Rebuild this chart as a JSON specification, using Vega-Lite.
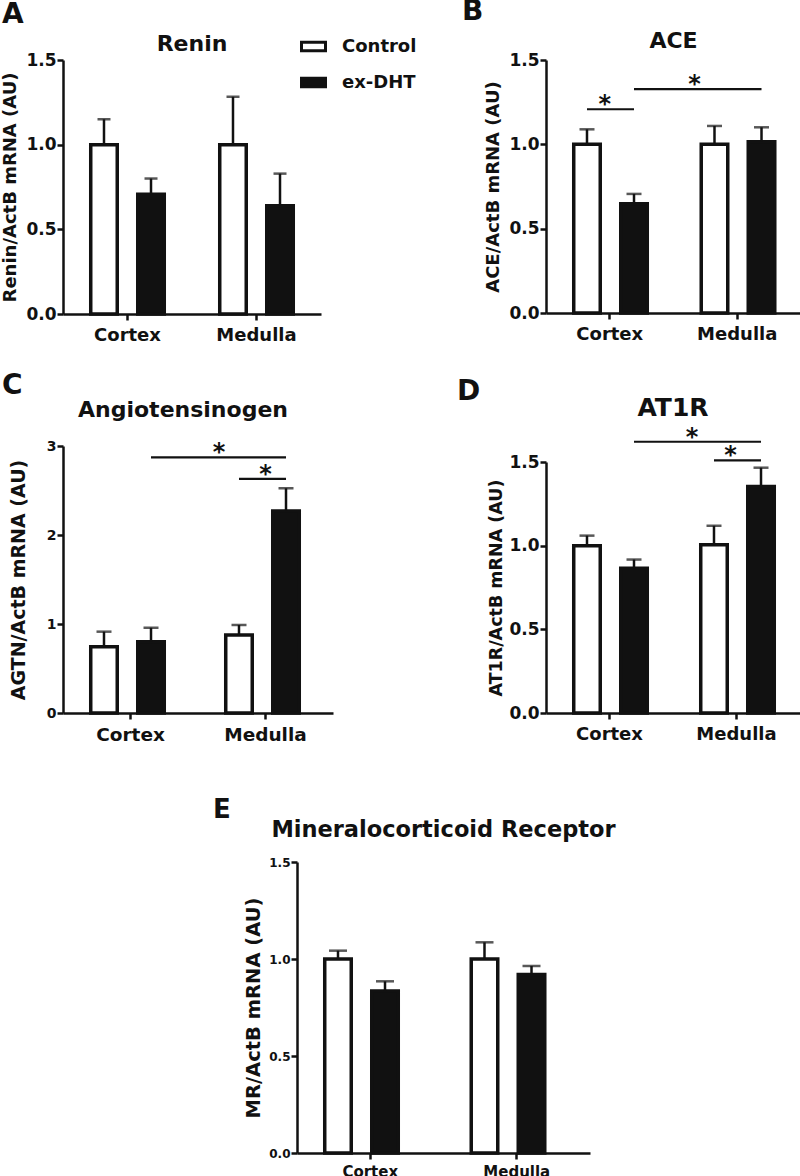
{
"$schema": "https://vega.github.io/schema/vega-lite/v6.json",
"padding": {"left": 1, "top": -2, "right": 0, "bottom": 0},
"autosize": {"type": "pad"},
"datasets": {
 "bars": [
  {"panel":"A","region":"Cortex","group":"Control","mean":1.0,"upper":1.15},
  {"panel":"A","region":"Cortex","group":"ex-DHT","mean":0.707,"upper":0.80},
  {"panel":"A","region":"Medulla","group":"Control","mean":1.0,"upper":1.283},
  {"panel":"A","region":"Medulla","group":"ex-DHT","mean":0.64,"upper":0.829},
  {"panel":"B","region":"Cortex","group":"Control","mean":1.0,"upper":1.089},
  {"panel":"B","region":"Cortex","group":"ex-DHT","mean":0.647,"upper":0.706},
  {"panel":"B","region":"Medulla","group":"Control","mean":1.0,"upper":1.109},
  {"panel":"B","region":"Medulla","group":"ex-DHT","mean":1.015,"upper":1.101},
  {"panel":"C","region":"Cortex","group":"Control","mean":0.745,"upper":0.914},
  {"panel":"C","region":"Cortex","group":"ex-DHT","mean":0.80,"upper":0.958},
  {"panel":"C","region":"Medulla","group":"Control","mean":0.876,"upper":0.989},
  {"panel":"C","region":"Medulla","group":"ex-DHT","mean":2.27,"upper":2.525},
  {"panel":"D","region":"Cortex","group":"Control","mean":1.0,"upper":1.06},
  {"panel":"D","region":"Cortex","group":"ex-DHT","mean":0.865,"upper":0.917},
  {"panel":"D","region":"Medulla","group":"Control","mean":1.006,"upper":1.119},
  {"panel":"D","region":"Medulla","group":"ex-DHT","mean":1.353,"upper":1.466},
  {"panel":"E","region":"Cortex","group":"Control","mean":1.0,"upper":1.043},
  {"panel":"E","region":"Cortex","group":"ex-DHT","mean":0.835,"upper":0.885},
  {"panel":"E","region":"Medulla","group":"Control","mean":1.0,"upper":1.086},
  {"panel":"E","region":"Medulla","group":"ex-DHT","mean":0.92,"upper":0.964}
 ],
 "sig": [
  {"panel":"B","id":"B1","region":"Cortex","group":"Control","y":1.208},
  {"panel":"B","id":"B1","region":"Cortex","group":"ex-DHT","y":1.208},
  {"panel":"B","id":"B2","region":"Cortex","group":"ex-DHT","y":1.327},
  {"panel":"B","id":"B2","region":"Medulla","group":"ex-DHT","y":1.327},
  {"panel":"C","id":"C1","region":"Cortex","group":"ex-DHT","y":2.873},
  {"panel":"C","id":"C1","region":"Medulla","group":"ex-DHT","y":2.873},
  {"panel":"C","id":"C2","region":"Medulla","group":"Control","y":2.63},
  {"panel":"C","id":"C2","region":"Medulla","group":"ex-DHT","y":2.63},
  {"panel":"D","id":"D1","region":"Cortex","group":"ex-DHT","y":1.621},
  {"panel":"D","id":"D1","region":"Medulla","group":"ex-DHT","y":1.621},
  {"panel":"D","id":"D2","region":"Medulla","group":"Control","y":1.51},
  {"panel":"D","id":"D2","region":"Medulla","group":"ex-DHT","y":1.51}
 ],
 "stars": [
  {"panel":"B","id":"B1","kind":"within","region":"Cortex","y":1.208,"label":"*"},
  {"panel":"B","id":"B2","kind":"between","region":"Medulla","y":1.327,"label":"*"},
  {"panel":"C","id":"C1","kind":"between","region":"Medulla","y":2.873,"label":"*"},
  {"panel":"C","id":"C2","kind":"within","region":"Medulla","y":2.63,"label":"*"},
  {"panel":"D","id":"D1","kind":"between","region":"Medulla","y":1.621,"label":"*"},
  {"panel":"D","id":"D2","kind":"within","region":"Medulla","y":1.51,"label":"*"}
 ]
},
"spacing": 52,
"resolve": {"scale": {"fill": "independent"}, "legend": {"fill": "independent"}},
"vconcat": [
 {
  "spacing": 40,
  "resolve": {"scale": {"fill": "independent"}, "legend": {"fill": "independent"}},
  "hconcat": [
   {
    "spacing": 28,
    "resolve": {"scale": {"fill": "independent"}, "legend": {"fill": "independent"}},
    "vconcat": [
     {
      "title": {"text": "A", "anchor": "start", "frame": "group", "fontSize": 28, "dx": -61, "offset": 4},
      "resolve": {"scale": {"fill": "independent"}, "legend": {"fill": "independent"}},
      "vconcat": [
       {
        "width": 258, "height": 254,
        "title": {"text": "Renin", "fontSize": 22, "offset": -23},
        "layer": [
         {"data": {"name": "bars"}, "transform": [{"filter": "datum.panel === 'A'"}],
          "mark": {"type": "bar", "stroke": "#111111", "strokeWidth": 3.5},
          "encoding": {
           "x": {"field": "region", "type": "nominal", "scale": {"paddingInner": 0, "paddingOuter": 0}, "axis": {"title": null, "labelFontSize": 18}},
           "xOffset": {"field": "group", "type": "nominal", "scale": {"paddingInner": 0.436, "paddingOuter": 0.59}},
           "y": {"field": "mean", "type": "quantitative", "title": "Renin/ActB mRNA (AU)", "scale": {"domain": [0, 1.5], "nice": false}, "axis": {"values": [0, 0.5, 1, 1.5], "format": ".1f", "labelFontSize": 17, "titleFontSize": 18, "titlePadding": 6}},
           "fill": {"field": "group", "type": "nominal", "scale": {"domain": ["Control", "ex-DHT"], "range": ["#ffffff", "#111111"]},
            "legend": {"orient": "none", "legendX": 237, "legendY": -27, "title": null, "symbolType": "M-1,-0.35H1V0.35H-1Z", "symbolSize": 576, "symbolStrokeWidth": 3, "symbolStrokeColor": "#111111", "labelFontSize": 18, "labelFontWeight": "bold", "labelColor": "#111111", "labelFont": "DejaVu Sans", "labelOffset": 15, "rowPadding": 12}}
          }},
         {"data": {"name": "bars"}, "transform": [{"filter": "datum.panel === 'A'"}],
          "mark": {"type": "rule", "color": "#111111", "strokeWidth": 2.5},
          "encoding": {
           "x": {"field": "region", "type": "nominal"},
           "xOffset": {"field": "group", "type": "nominal"},
           "y": {"field": "mean", "type": "quantitative", "title": "Renin/ActB mRNA (AU)"},
           "y2": {"field": "upper"}
          }},
         {"data": {"name": "bars"}, "transform": [{"filter": "datum.panel === 'A'"}],
          "mark": {"type": "tick", "color": "#111111", "thickness": 2.5, "size": 13},
          "encoding": {
           "x": {"field": "region", "type": "nominal"},
           "xOffset": {"field": "group", "type": "nominal"},
           "y": {"field": "upper", "type": "quantitative", "title": "Renin/ActB mRNA (AU)"}
          }}
        ]
       }
      ]
     },
     {
      "title": {"text": "C", "anchor": "start", "frame": "group", "fontSize": 28, "dx": -61, "offset": -1},
      "resolve": {"scale": {"fill": "independent"}, "legend": {"fill": "independent"}},
      "vconcat": [
       {
        "width": 270, "height": 267,
        "title": {"text": "Angiotensinogen", "fontSize": 22, "offset": 17, "dx": -15},
        "layer": [
         {"data": {"name": "bars"}, "transform": [{"filter": "datum.panel === 'C'"}],
          "mark": {"type": "bar", "stroke": "#111111", "strokeWidth": 3.5},
          "encoding": {
           "x": {"field": "region", "type": "nominal", "scale": {"paddingInner": 0, "paddingOuter": 0}, "axis": {"title": null, "labelFontSize": 18.5}},
           "xOffset": {"field": "group", "type": "nominal", "scale": {"paddingInner": 0.4, "paddingOuter": 0.56}},
           "y": {"field": "mean", "type": "quantitative", "title": "AGTN/ActB mRNA (AU)", "scale": {"domain": [0, 3], "nice": false}, "axis": {"values": [0, 1, 2, 3], "format": "d", "labelFontSize": 14, "titleFontSize": 19, "titlePadding": 18}},
           "fill": {"field": "group", "type": "nominal", "scale": {"domain": ["Control", "ex-DHT"], "range": ["#ffffff", "#111111"]}, "legend": null}
          }},
         {"data": {"name": "bars"}, "transform": [{"filter": "datum.panel === 'C'"}],
          "mark": {"type": "rule", "color": "#111111", "strokeWidth": 2.5},
          "encoding": {
           "x": {"field": "region", "type": "nominal"},
           "xOffset": {"field": "group", "type": "nominal"},
           "y": {"field": "mean", "type": "quantitative", "title": "AGTN/ActB mRNA (AU)"},
           "y2": {"field": "upper"}
          }},
         {"data": {"name": "bars"}, "transform": [{"filter": "datum.panel === 'C'"}],
          "mark": {"type": "tick", "color": "#111111", "thickness": 2.5, "size": 15},
          "encoding": {
           "x": {"field": "region", "type": "nominal"},
           "xOffset": {"field": "group", "type": "nominal"},
           "y": {"field": "upper", "type": "quantitative", "title": "AGTN/ActB mRNA (AU)"}
          }},
         {"data": {"name": "sig"}, "transform": [{"filter": "datum.panel === 'C'"}],
          "mark": {"type": "line", "color": "#111111", "strokeWidth": 2.2},
          "encoding": {
           "x": {"field": "region", "type": "nominal"},
           "xOffset": {"field": "group", "type": "nominal"},
           "y": {"field": "y", "type": "quantitative", "title": "AGTN/ActB mRNA (AU)"},
           "detail": {"field": "id"}
          }},
         {"data": {"name": "stars"}, "transform": [{"filter": "datum.panel === 'C' && datum.kind === 'within'"}],
          "mark": {"type": "text", "fontSize": 24, "fontWeight": "bold", "color": "#111111", "baseline": "alphabetic", "dy": 3},
          "encoding": {
           "x": {"field": "region", "type": "nominal"},
           "y": {"field": "y", "type": "quantitative", "title": "AGTN/ActB mRNA (AU)"},
           "text": {"field": "label"}
          }},
         {"data": {"name": "stars"}, "transform": [{"filter": "datum.panel === 'C' && datum.kind === 'between'"}],
          "mark": {"type": "text", "fontSize": 24, "fontWeight": "bold", "color": "#111111", "baseline": "alphabetic", "dy": 3, "dx": 21},
          "encoding": {
           "x": {"field": "region", "type": "nominal", "bandPosition": 0},
           "y": {"field": "y", "type": "quantitative", "title": "AGTN/ActB mRNA (AU)"},
           "text": {"field": "label"}
          }}
        ]
       }
      ]
     }
    ]
   },
   {
    "spacing": 34,
    "resolve": {"scale": {"fill": "independent"}, "legend": {"fill": "independent"}},
    "vconcat": [
     {
      "title": {"text": "B", "anchor": "start", "frame": "group", "fontSize": 28, "dx": -84, "offset": 4},
      "resolve": {"scale": {"fill": "independent"}, "legend": {"fill": "independent"}},
      "vconcat": [
       {
        "width": 255, "height": 253,
        "title": {"text": "ACE", "fontSize": 22, "offset": -2},
        "layer": [
         {"data": {"name": "bars"}, "transform": [{"filter": "datum.panel === 'B'"}],
          "mark": {"type": "bar", "stroke": "#111111", "strokeWidth": 3.5},
          "encoding": {
           "x": {"field": "region", "type": "nominal", "scale": {"paddingInner": 0, "paddingOuter": 0}, "axis": {"title": null, "labelFontSize": 18}},
           "xOffset": {"field": "group", "type": "nominal", "scale": {"paddingInner": 0.436, "paddingOuter": 0.574}},
           "y": {"field": "mean", "type": "quantitative", "title": "ACE/ActB mRNA (AU)", "scale": {"domain": [0, 1.5], "nice": false}, "axis": {"values": [0, 0.5, 1, 1.5], "format": ".1f", "labelFontSize": 17, "titleFontSize": 18, "titlePadding": 6}},
           "fill": {"field": "group", "type": "nominal", "scale": {"domain": ["Control", "ex-DHT"], "range": ["#ffffff", "#111111"]}, "legend": null}
          }},
         {"data": {"name": "bars"}, "transform": [{"filter": "datum.panel === 'B'"}],
          "mark": {"type": "rule", "color": "#111111", "strokeWidth": 2.5},
          "encoding": {
           "x": {"field": "region", "type": "nominal"},
           "xOffset": {"field": "group", "type": "nominal"},
           "y": {"field": "mean", "type": "quantitative", "title": "ACE/ActB mRNA (AU)"},
           "y2": {"field": "upper"}
          }},
         {"data": {"name": "bars"}, "transform": [{"filter": "datum.panel === 'B'"}],
          "mark": {"type": "tick", "color": "#111111", "thickness": 2.5, "size": 15},
          "encoding": {
           "x": {"field": "region", "type": "nominal"},
           "xOffset": {"field": "group", "type": "nominal"},
           "y": {"field": "upper", "type": "quantitative", "title": "ACE/ActB mRNA (AU)"}
          }},
         {"data": {"name": "sig"}, "transform": [{"filter": "datum.panel === 'B'"}],
          "mark": {"type": "line", "color": "#111111", "strokeWidth": 2.2},
          "encoding": {
           "x": {"field": "region", "type": "nominal"},
           "xOffset": {"field": "group", "type": "nominal"},
           "y": {"field": "y", "type": "quantitative", "title": "ACE/ActB mRNA (AU)"},
           "detail": {"field": "id"}
          }},
         {"data": {"name": "stars"}, "transform": [{"filter": "datum.panel === 'B' && datum.kind === 'within'"}],
          "mark": {"type": "text", "fontSize": 24, "fontWeight": "bold", "color": "#111111", "baseline": "alphabetic", "dy": 3, "dx": -5},
          "encoding": {
           "x": {"field": "region", "type": "nominal"},
           "y": {"field": "y", "type": "quantitative", "title": "ACE/ActB mRNA (AU)"},
           "text": {"field": "label"}
          }},
         {"data": {"name": "stars"}, "transform": [{"filter": "datum.panel === 'B' && datum.kind === 'between'"}],
          "mark": {"type": "text", "fontSize": 24, "fontWeight": "bold", "color": "#111111", "baseline": "alphabetic", "dy": 3, "dx": 21},
          "encoding": {
           "x": {"field": "region", "type": "nominal", "bandPosition": 0},
           "y": {"field": "y", "type": "quantitative", "title": "ACE/ActB mRNA (AU)"},
           "text": {"field": "label"}
          }}
        ]
       }
      ]
     },
     {
      "title": {"text": "D", "anchor": "start", "frame": "group", "fontSize": 28, "dx": -89, "offset": -10},
      "resolve": {"scale": {"fill": "independent"}, "legend": {"fill": "independent"}},
      "vconcat": [
       {
        "width": 254, "height": 251,
        "title": {"text": "AT1R", "fontSize": 25, "offset": 5},
        "layer": [
         {"data": {"name": "bars"}, "transform": [{"filter": "datum.panel === 'D'"}],
          "mark": {"type": "bar", "stroke": "#111111", "strokeWidth": 3.5},
          "encoding": {
           "x": {"field": "region", "type": "nominal", "scale": {"paddingInner": 0, "paddingOuter": 0}, "axis": {"title": null, "labelFontSize": 18}},
           "xOffset": {"field": "group", "type": "nominal", "scale": {"paddingInner": 0.436, "paddingOuter": 0.569}},
           "y": {"field": "mean", "type": "quantitative", "title": "AT1R/ActB mRNA (AU)", "scale": {"domain": [0, 1.5], "nice": false}, "axis": {"values": [0, 0.5, 1, 1.5], "format": ".1f", "labelFontSize": 17, "titleFontSize": 17.5, "titlePadding": 3}},
           "fill": {"field": "group", "type": "nominal", "scale": {"domain": ["Control", "ex-DHT"], "range": ["#ffffff", "#111111"]}, "legend": null}
          }},
         {"data": {"name": "bars"}, "transform": [{"filter": "datum.panel === 'D'"}],
          "mark": {"type": "rule", "color": "#111111", "strokeWidth": 2.5},
          "encoding": {
           "x": {"field": "region", "type": "nominal"},
           "xOffset": {"field": "group", "type": "nominal"},
           "y": {"field": "mean", "type": "quantitative", "title": "AT1R/ActB mRNA (AU)"},
           "y2": {"field": "upper"}
          }},
         {"data": {"name": "bars"}, "transform": [{"filter": "datum.panel === 'D'"}],
          "mark": {"type": "tick", "color": "#111111", "thickness": 2.5, "size": 15},
          "encoding": {
           "x": {"field": "region", "type": "nominal"},
           "xOffset": {"field": "group", "type": "nominal"},
           "y": {"field": "upper", "type": "quantitative", "title": "AT1R/ActB mRNA (AU)"}
          }},
         {"data": {"name": "sig"}, "transform": [{"filter": "datum.panel === 'D'"}],
          "mark": {"type": "line", "color": "#111111", "strokeWidth": 2.2},
          "encoding": {
           "x": {"field": "region", "type": "nominal"},
           "xOffset": {"field": "group", "type": "nominal"},
           "y": {"field": "y", "type": "quantitative", "title": "AT1R/ActB mRNA (AU)"},
           "detail": {"field": "id"}
          }},
         {"data": {"name": "stars"}, "transform": [{"filter": "datum.panel === 'D' && datum.kind === 'within'"}],
          "mark": {"type": "text", "fontSize": 24, "fontWeight": "bold", "color": "#111111", "baseline": "alphabetic", "dy": 3, "dx": -6},
          "encoding": {
           "x": {"field": "region", "type": "nominal"},
           "y": {"field": "y", "type": "quantitative", "title": "AT1R/ActB mRNA (AU)"},
           "text": {"field": "label"}
          }},
         {"data": {"name": "stars"}, "transform": [{"filter": "datum.panel === 'D' && datum.kind === 'between'"}],
          "mark": {"type": "text", "fontSize": 24, "fontWeight": "bold", "color": "#111111", "baseline": "alphabetic", "dy": 3, "dx": 19},
          "encoding": {
           "x": {"field": "region", "type": "nominal", "bandPosition": 0},
           "y": {"field": "y", "type": "quantitative", "title": "AT1R/ActB mRNA (AU)"},
           "text": {"field": "label"}
          }}
        ]
       }
      ]
     }
    ]
   }
  ]
 },
 {
  "spacing": 149,
  "resolve": {"scale": {"fill": "independent"}, "legend": {"fill": "independent"}},
  "hconcat": [
   {"width": 1, "height": 1, "data": {"values": []}, "mark": {"type": "point", "opacity": 0}, "encoding": {}},
   {
    "title": {"text": "E", "anchor": "start", "frame": "group", "fontSize": 26, "dx": -84, "offset": -4},
    "resolve": {"scale": {"fill": "independent"}, "legend": {"fill": "independent"}},
    "vconcat": [
     {
      "width": 293, "height": 291,
      "title": {"text": "Mineralocorticoid Receptor", "fontSize": 22.5, "offset": 15},
      "layer": [
       {"data": {"name": "bars"}, "transform": [{"filter": "datum.panel === 'E'"}],
        "mark": {"type": "bar", "stroke": "#111111", "strokeWidth": 3.5},
        "encoding": {
         "x": {"field": "region", "type": "nominal", "scale": {"paddingInner": 0, "paddingOuter": 0}, "axis": {"title": null, "labelFontSize": 15, "labelPadding": 5}},
         "xOffset": {"field": "group", "type": "nominal", "scale": {"paddingInner": 0.431, "paddingOuter": 0.56}},
         "y": {"field": "mean", "type": "quantitative", "title": "MR/ActB mRNA (AU)", "scale": {"domain": [0, 1.5], "nice": false}, "axis": {"values": [0, 0.5, 1, 1.5], "format": ".1f", "labelFontSize": 12, "titleFontSize": 19.5, "titlePadding": 5}},
         "fill": {"field": "group", "type": "nominal", "scale": {"domain": ["Control", "ex-DHT"], "range": ["#ffffff", "#111111"]}, "legend": null}
        }},
       {"data": {"name": "bars"}, "transform": [{"filter": "datum.panel === 'E'"}],
        "mark": {"type": "rule", "color": "#111111", "strokeWidth": 2.5},
        "encoding": {
         "x": {"field": "region", "type": "nominal"},
         "xOffset": {"field": "group", "type": "nominal"},
         "y": {"field": "mean", "type": "quantitative", "title": "MR/ActB mRNA (AU)"},
         "y2": {"field": "upper"}
        }},
       {"data": {"name": "bars"}, "transform": [{"filter": "datum.panel === 'E'"}],
        "mark": {"type": "tick", "color": "#111111", "thickness": 2.5, "size": 18},
        "encoding": {
         "x": {"field": "region", "type": "nominal"},
         "xOffset": {"field": "group", "type": "nominal"},
         "y": {"field": "upper", "type": "quantitative", "title": "MR/ActB mRNA (AU)"}
        }}
      ]
     }
    ]
   }
  ]
 }
],
"config": {
 "view": {"stroke": null},
 "font": "DejaVu Sans",
 "axis": {"domainColor": "#111111", "domainWidth": 2.5, "tickColor": "#111111", "tickWidth": 2.5, "tickSize": 6, "labelFont": "DejaVu Sans", "labelFontWeight": "bold", "labelColor": "#111111", "titleFont": "DejaVu Sans", "titleFontWeight": "bold", "titleColor": "#111111", "grid": false},
 "axisX": {"labelAngle": 0, "labelPadding": 6},
 "axisY": {"labelPadding": 1},
 "title": {"font": "DejaVu Sans", "fontWeight": "bold", "color": "#111111"}
}
}
